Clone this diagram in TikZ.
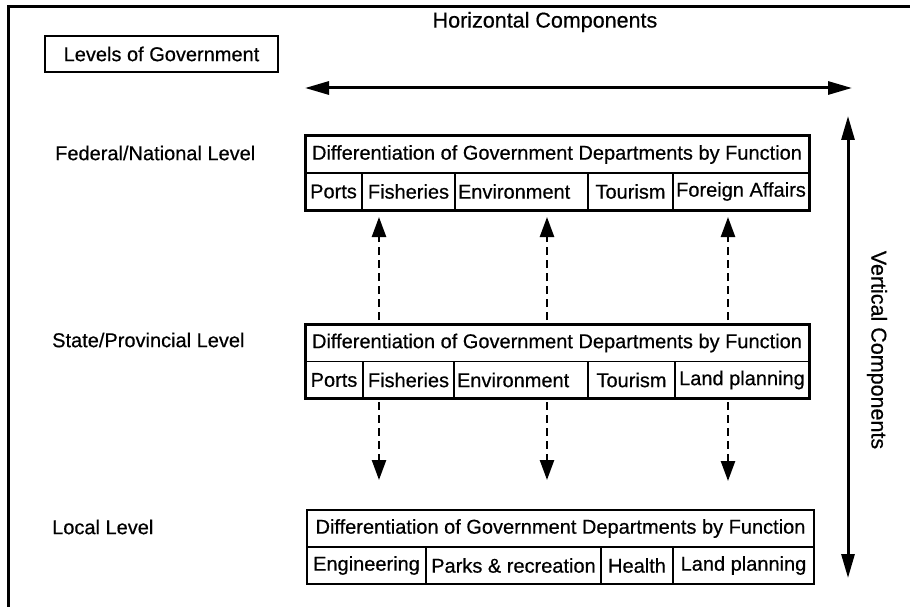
\documentclass[tikz,border=0pt]{standalone}
\usepackage{fontspec}
\setmainfont{Liberation Sans}
\newfontfamily\reffont{Liberation Sans}[FakeBold=0.5]
\usetikzlibrary{arrows.meta}
\tikzset{
  txt/.style={font=\reffont\fontsize{20}{24}\selectfont},
  bigtxt/.style={font=\reffont\fontsize{21.5}{25}\selectfont, inner sep=0pt},
  cell/.style={draw, line width=1.6pt, minimum height=37pt, inner sep=0pt, outer sep=0pt, anchor=west, txt},
  lbl/.style={anchor=west, inner sep=0pt, txt},
  bigarrow/.style={line width=3pt, {Triangle[length=24pt,width=13pt]}-{Triangle[length=24pt,width=13pt]}},
  dasharrow/.style={line width=2.5pt, dash pattern=on 8pt off 5pt, -{Triangle[length=20pt,width=14pt]}},
  frame/.style={line width=3pt},
  outline/.style={line width=3pt}
}
\begin{document}
\begin{tikzpicture}[x=1pt,y=-1pt]
\useasboundingbox (0,0) rectangle (910,607);
% outer frame (top and left edges)
\coordinate (fbl) at (8,607);
\coordinate (ftl) at (8,7);
\coordinate (ftr) at (910,7);
\draw[frame] (fbl) -- (ftl) -- (ftr);

% header
\node[cell, line width=2.2pt, minimum width=233pt, minimum height=36pt] (levels) at (45,54) {Levels of Government};
\node[bigtxt] (horiz) at (545,22) {Horizontal Components};
\coordinate (hL) at (305,88);
\coordinate (hR) at (852,88);
\draw[bigarrow] (hL) -- (hR);

\coordinate (vT) at (848,116);
\coordinate (vB) at (848,578);
\draw[bigarrow] (vT) -- (vB);
\node[bigtxt, rotate=-90] (vert) at (877,350) {Vertical Components};

% level labels
\node[lbl] (fedlbl) at (55,153) {Federal/National Level};
\node[lbl] (statelbl) at (52,340) {State/Provincial Level};
\node[lbl] (locallbl) at (52,527) {Local Level};

% federal
\node[cell, minimum width=504pt] (ft) at (305,154.5) {Differentiation of Government Departments by Function};
\node[cell, minimum width=57pt] (f1) at (305,191.5) {Ports};
\node[cell, minimum width=93pt] (f2) at (362,191.5) {Fisheries};
\node[cell, minimum width=133pt, text width=127pt, align=left, inner xsep=3pt] (f3) at (455,191.5) {Environment};
\node[cell, minimum width=85pt] (f4) at (588,191.5) {Tourism};
\node[cell, minimum width=136pt] (f5) at (673,191.5) {Foreign Affairs};
\draw[outline] (ft.north west) rectangle (f5.south east);

% state
\node[cell, minimum width=504pt] (st) at (305,343) {Differentiation of Government Departments by Function};
\node[cell, minimum width=58pt] (s1) at (305,380) {Ports};
\node[cell, minimum width=91pt] (s2) at (363,380) {Fisheries};
\node[cell, minimum width=134pt, text width=128pt, align=left, inner xsep=3pt] (s3) at (454,380) {Environment};
\node[cell, minimum width=87pt] (s4) at (588,380) {Tourism};
\node[cell, minimum width=134pt] (s5) at (675,380) {Land planning};
\draw[outline] (st.north west) rectangle (s5.south east);

% local
\node[cell, minimum width=507pt] (lt) at (307,528.5) {Differentiation of Government Departments by Function};
\node[cell, minimum width=119pt] (l1) at (307,565.5) {Engineering};
\node[cell, minimum width=175pt] (l2) at (426,565.5) {Parks \& recreation};
\node[cell, minimum width=72pt] (l3) at (601,565.5) {Health};
\node[cell, minimum width=141pt] (l4) at (673,565.5) {Land planning};
\draw[line width=2.5pt] (lt.north west) rectangle (l4.south east);

% dashed arrows up (state -> federal)
\coordinate (u1s) at (379,320); \coordinate (u1e) at (379,217);
\coordinate (u2s) at (547,320); \coordinate (u2e) at (547,217);
\coordinate (u3s) at (728,320); \coordinate (u3e) at (728,217);
\draw[dasharrow] (u1s) -- (u1e);
\draw[dasharrow] (u2s) -- (u2e);
\draw[dasharrow] (u3s) -- (u3e);
% dashed arrows down (state -> local)
\coordinate (d1s) at (379,402); \coordinate (d1e) at (379,480);
\coordinate (d2s) at (547,402); \coordinate (d2e) at (547,480);
\coordinate (d3s) at (728,402); \coordinate (d3e) at (728,481);
\draw[dasharrow] (d1s) -- (d1e);
\draw[dasharrow] (d2s) -- (d2e);
\draw[dasharrow] (d3s) -- (d3e);
\end{tikzpicture}
\end{document}
